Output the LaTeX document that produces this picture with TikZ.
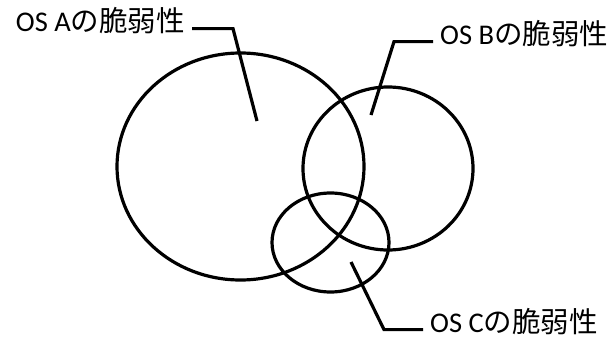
\documentclass[tikz,border=0pt]{standalone}
\usepackage{fontspec}
\setmainfont{Carlito}
\newfontfamily\cjk{Noto Sans CJK JP}
\begin{document}
\begin{tikzpicture}[x=1pt,y=-1pt,
  ring/.style={line width=3.2pt},
  lead/.style={line width=3.2pt},
  lbl/.style={font=\fontsize{28.5}{30}\selectfont,inner xsep=7pt,inner ysep=0pt}]
\useasboundingbox (0,0) rectangle (613,340);
\coordinate (A) at (240.5,166.5);
\coordinate (B) at (388,168.5);
\coordinate (C) at (330.5,242.5);
\draw[ring] (A) ellipse [x radius=123.5pt, y radius=113.5pt];
\draw[ring] (B) ellipse [x radius=85pt, y radius=81.5pt];
\draw[ring] (C) ellipse [x radius=58.5pt, y radius=49.5pt];

\node[lbl,anchor=base east] (LA) at (192,31) {OS A{\cjk の脆弱性}};
\node[lbl,anchor=base west] (LB) at (433,44) {OS B{\cjk の脆弱性}};
\node[lbl,anchor=base west] (LC) at (423,332) {OS C{\cjk の脆弱性}};

\coordinate (KA) at (233,0);
\coordinate (KB) at (394,0);
\coordinate (KC) at (384,0);
\coordinate (EA) at (257,121);
\coordinate (EB) at (371,115);
\coordinate (EC) at (351,262);

\draw[lead] (LA.mid east) -- (KA |- LA.mid east) -- (EA);
\draw[lead] (LB.mid west) -- (KB |- LB.mid west) -- (EB);
\draw[lead] (LC.mid west) -- (KC |- LC.mid west) -- (EC);
\end{tikzpicture}
\end{document}
